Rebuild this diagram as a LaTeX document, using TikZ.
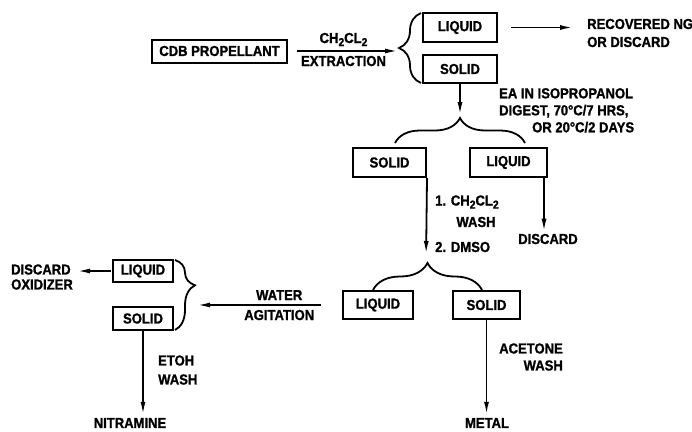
\documentclass[tikz,border=0pt]{standalone}
\usepackage{fontspec}
\setmainfont{Liberation Sans}[FakeStretch=0.9, FakeBold=1.2]
\usepackage{tikz}
\usetikzlibrary{positioning,arrows.meta,decorations.pathreplacing}
\newcommand{\lblfont}{\fontsize{14.5}{17}\selectfont\bfseries}
\newcommand{\subtwo}{\raisebox{-0.4ex}{\fontsize{11.5}{11.5}\selectfont 2}}

\begin{document}
\begin{tikzpicture}[
    x=1pt, y=-1pt,
    box/.style={draw, line width=2pt, minimum height=29pt, inner sep=2pt,
                font=\lblfont},
    lbl/.style={font=\lblfont, inner sep=1pt},
    arr/.style={-{Latex[length=13pt,width=5pt]}, line width=1.8pt},
    brc/.style={decorate, decoration={brace, amplitude=#1}, line width=1.8pt},
  ]
    \useasboundingbox (0,0) rectangle (692,431);

    % extraction with CH2CL2
    \node[box, minimum width=135pt, minimum height=23pt] (cdb) at (219.5,51) {CDB PROPELLANT};
    \node[box, minimum width=74pt] (liqA) at (460,27.5) {LIQUID};
    \node[box, minimum width=74pt, minimum height=28pt] (solA) at (460,69) {SOLID};
    \coordinate (tipA) at (399,51);
    \draw[brc=22pt] (421,83) -- (421,13);
    \draw[arr, shorten <=9pt, shorten >=1pt] (cdb.east) -- (tipA)
        node[lbl, midway, above=3pt] {CH\subtwo CL\subtwo}
        node[lbl, midway, below=3pt] {EXTRACTION};
    \node[lbl, anchor=west, align=left] (recov) at (586,33) {RECOVERED NG\\[1pt]OR DISCARD};
    \draw[arr, shorten <=13pt, shorten >=13pt] (liqA.east) -- (liqA.east -| recov.west);

    % digestion
    \coordinate (tipB) at (460,117);
    \draw[arr, shorten >=2pt] (solA.south) -- (tipB);
    \node[lbl, anchor=north west, align=left] (digest) at (498,87)
        {EA IN ISOPROPANOL\\DIGEST, 70°C/7 HRS,\\\hspace*{33pt}OR 20°C/2 DAYS};
    \node[box, minimum width=73pt] (solB) at (389.5,162.5) {SOLID};
    \node[box, minimum width=77pt] (liqB) at (508.5,162.5) {LIQUID};
    \draw[brc=25pt] (395,143) -- (525,143);

    % wash of the solid
    \coordinate (tipC) at (426,263);
    \draw[arr, shorten >=9pt] (solB.south east) -- (tipC);
    \node[lbl, anchor=west] (washA) at (434,202) {1. CH\subtwo CL\subtwo};
    \node[lbl] (washB) at (476,222) {WASH};
    \node[lbl, anchor=west] (washC) at (434,247) {2. DMSO};
    \node[lbl] (discB) at (548,239) {DISCARD};
    \draw[arr, shorten >=1pt] ([xshift=-4pt]liqB.south east) -- ([xshift=-4pt]liqB.south east |- discB.north);

    % DMSO split
    \node[box, minimum width=70pt, minimum height=28pt] (liqC) at (378,305) {LIQUID};
    \node[box, minimum width=67pt, minimum height=28pt] (solC) at (486.5,305) {SOLID};
    \draw[brc=27pt] (373,290) -- (482,290);
    \node[lbl, anchor=east, align=right] (acet) at (564,357) {ACETONE\\WASH};
    \node[lbl] (metal) at (487,423) {METAL};
    \draw[arr, shorten >=2pt] (solC.south) -- (solC.south |- metal.north);

    % water agitation
    \node[box, minimum width=60pt, minimum height=22pt] (liqD) at (143,271) {LIQUID};
    \node[box, minimum width=60pt, minimum height=23pt] (solD) at (143,318.5) {SOLID};
    \coordinate (tipD) at (196,305);
    \draw[brc=20pt, decoration={aspect=0.36}] (175,260) -- (175,330);
    \draw[arr, shorten <=21pt, shorten >=1pt] (liqC.west) -- (liqC.west -| tipD)
        node[lbl, pos=0.43, above=3pt] {WATER}
        node[lbl, pos=0.43, below=3pt] {AGITATION};
    \node[lbl, anchor=west, align=left] (discD) at (10,277) {DISCARD\\[-2pt]OXIDIZER};
    \draw[arr, shorten <=1pt, shorten >=3pt] (liqD.west) -- (liqD.west -| discD.east);
    \node[lbl, anchor=west, align=left] (etoh) at (157,370) {ETOH\\[2pt]WASH};
    \node[lbl] (nitra) at (130,423) {NITRAMINE};
    \draw[arr, shorten >=2pt] (solD.south) -- (solD.south |- nitra.north);
\end{tikzpicture}
\end{document}
